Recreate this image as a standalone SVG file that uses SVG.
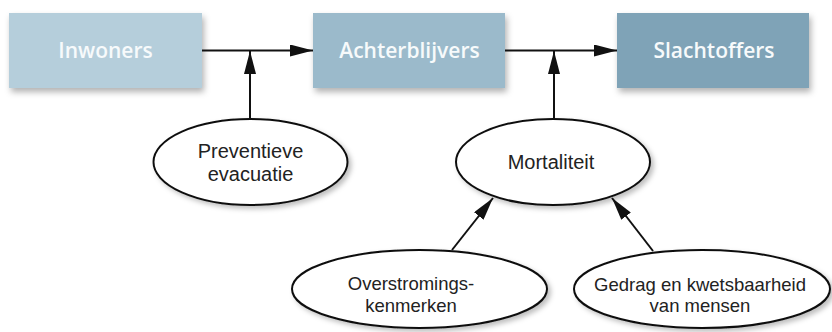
<svg xmlns="http://www.w3.org/2000/svg" width="832" height="332" viewBox="0 0 832 332">
<defs>
<filter id="sh" x="-10%" y="-20%" width="130%" height="160%">
<feDropShadow dx="2" dy="4" stdDeviation="3" flood-color="#000" flood-opacity="0.3"/>
</filter>
<filter id="esh" x="-10%" y="-20%" width="130%" height="160%">
<feDropShadow dx="3" dy="3" stdDeviation="2.5" flood-color="#000" flood-opacity="0.25"/>
</filter>
<marker id="ah" markerUnits="userSpaceOnUse" markerWidth="23" markerHeight="12" refX="23" refY="6" orient="auto">
<path d="M0,0 L23,6 L0,12 z" fill="#111"/>
</marker>
</defs>
<style>
.box text{font-family:"Open Sans","DejaVu Sans",sans-serif;font-weight:600;font-size:21px;fill:#f7fafb;text-anchor:middle}
.ell ellipse{fill:#fff;stroke:#111;stroke-width:2}
.ell text{font-family:"Liberation Sans",Arial,sans-serif;fill:#222;text-anchor:middle}
.t1{font-size:20px}
.t2{font-size:18.5px}
.conn line{stroke:#111;stroke-width:2;fill:none}
</style>
<rect width="832" height="332" fill="#fff"/>
<g id="inwoners" class="box"><rect x="9" y="13" width="193" height="75" fill="#b5cedb" filter="url(#sh)"/><text x="105.5" y="58">Inwoners</text></g>
<g id="achterblijvers" class="box"><rect x="313" y="13" width="192" height="75" fill="#9bbacb" filter="url(#sh)"/><text x="409.5" y="58">Achterblijvers</text></g>
<g id="slachtoffers" class="box"><rect x="617" y="13" width="192" height="75" fill="#7fa3b7" filter="url(#sh)"/><text x="714" y="58">Slachtoffers</text></g>
<g id="preventieve" class="ell"><ellipse cx="250.5" cy="162" rx="97" ry="43" filter="url(#esh)"/><text class="t1" x="250.5" y="158">Preventieve</text><text class="t1" x="250.5" y="181">evacuatie</text></g>
<g id="mortaliteit" class="ell"><ellipse cx="553" cy="162" rx="97" ry="43" filter="url(#esh)"/><text class="t1" x="551" y="169">Mortaliteit</text></g>
<g id="overstromings" class="ell"><ellipse cx="419.5" cy="289" rx="127.5" ry="39" filter="url(#esh)"/><text class="t2" x="411" y="290">Overstromings-</text><text class="t2" x="411" y="312">kenmerken</text></g>
<g id="gedrag" class="ell"><ellipse cx="702" cy="289" rx="128" ry="39" filter="url(#esh)"/><text class="t2" x="700" y="291">Gedrag en kwetsbaarheid</text><text class="t2" x="700" y="312">van mensen</text></g>
<g id="connectors" class="conn">
<line x1="202" y1="50.5" x2="313" y2="50.5" marker-end="url(#ah)"/>
<line x1="505" y1="50.5" x2="617" y2="50.5" marker-end="url(#ah)"/>
<line x1="250" y1="119" x2="250" y2="51" marker-end="url(#ah)"/>
<line x1="554" y1="119" x2="554" y2="51" marker-end="url(#ah)"/>
<line x1="452" y1="250" x2="493" y2="198" marker-end="url(#ah)"/>
<line x1="653" y1="251" x2="612" y2="198" marker-end="url(#ah)"/>
</g>
</svg>
